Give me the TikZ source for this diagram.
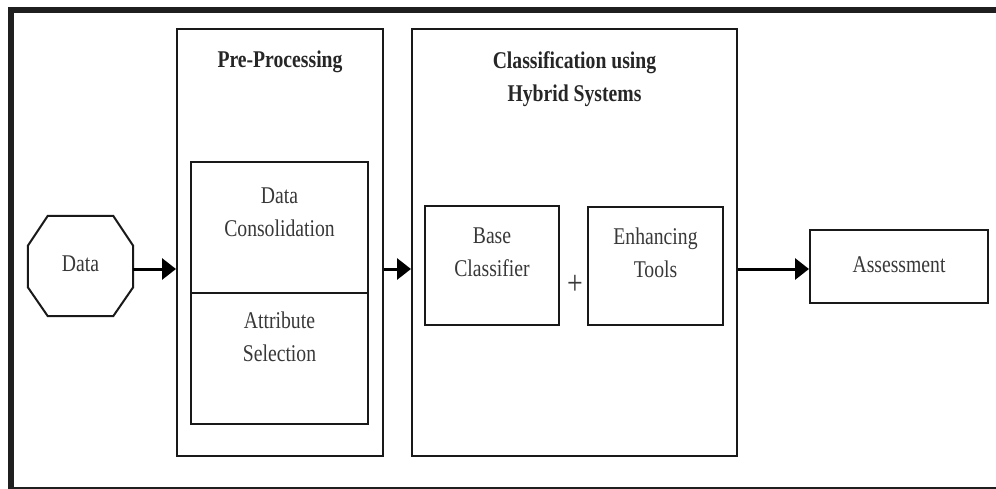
\documentclass[tikz,border=0pt]{standalone}
\usepackage{fontspec}
\setmainfont[FakeStretch=0.82]{Liberation Serif}
\usetikzlibrary{arrows.meta,positioning}

\begin{document}
\begin{tikzpicture}[x=1pt, y=-1pt,
    font=\fontsize{24}{33}\selectfont, text=black!78,
    box/.style={draw=black!90, line width=2pt, inner sep=0pt},
    boxtext/.style={inner sep=0pt, align=center},
    heading/.style={inner sep=0pt, align=center, font=\fontsize{24}{33}\selectfont\bfseries, text=black!85},
    flow/.style={draw=black, line width=3pt, -{Triangle[length=14pt, width=21pt]}}]

    \useasboundingbox (0,0) rectangle (996,489);
    \clip (0,0) rectangle (996,489);

    % outer frame
    \draw[line width=6pt, draw=black!88] (10.5,10) rectangle (1005,489.5);

    % input
    \node[minimum width=105pt, minimum height=100pt, inner sep=0pt] (data) at (80.5,266) {\raisebox{5pt}{Data}};
    \draw[box] ([xshift=20pt]data.north west) -- ([xshift=-20pt]data.north east)
        -- ([yshift=-30pt]data.north east) -- ([yshift=29pt]data.south east)
        -- ([xshift=-20pt]data.south east) -- ([xshift=20pt]data.south west)
        -- ([yshift=29pt]data.south west) -- ([yshift=-30pt]data.north west) -- cycle;

    % pre-processing
    \node[box, minimum width=206pt, minimum height=427pt] (pre) at (280,242.5) {};
    \node[heading, below=23pt of pre.north] (pretitle) {Pre-Processing};
    \node[box, minimum width=177pt, minimum height=131pt] (consol) at (279.5,227.5) {};
    \node[boxtext, below=27pt of consol.north] (consoltext) {Data\\Consolidation};
    \node[box, minimum width=177pt, minimum height=131pt] (attrib) at (279.5,358.5) {};
    \node[boxtext, below=20pt of attrib.north] (attribtext) {Attribute\\Selection};

    % classification
    \node[box, minimum width=325pt, minimum height=427pt] (class) at (574.5,242.5) {};
    \node[heading, below=23pt of class.north] (classtitle) {Classification using\\Hybrid Systems};
    \node[box, minimum width=134pt, minimum height=119pt] (base) at (492,265.5) {};
    \node[boxtext, below=23pt of base.north] (basetext) {Base\\Classifier};
    \node[box, minimum width=135pt, minimum height=118pt] (enhance) at (655.5,266) {};
    \node[boxtext, below=22pt of enhance.north] (enhancetext) {Enhancing\\Tools};
    \node[inner sep=0pt, font=\fontsize{34}{34}\selectfont] (plus) at (575,285) {+};

    % output
    \node[box, minimum width=178pt, minimum height=73pt] (assess) at (899,266.5) {\raisebox{3pt}{Assessment}};

    % connectors
    \coordinate (axis) at (0,269);
    \draw[flow] (data.east |- axis) -- (pre.west |- axis);
    \draw[flow] (pre.east |- axis) -- (class.west |- axis);
    \draw[flow] (class.east |- axis) -- (assess.west |- axis);
\end{tikzpicture}
\end{document}
